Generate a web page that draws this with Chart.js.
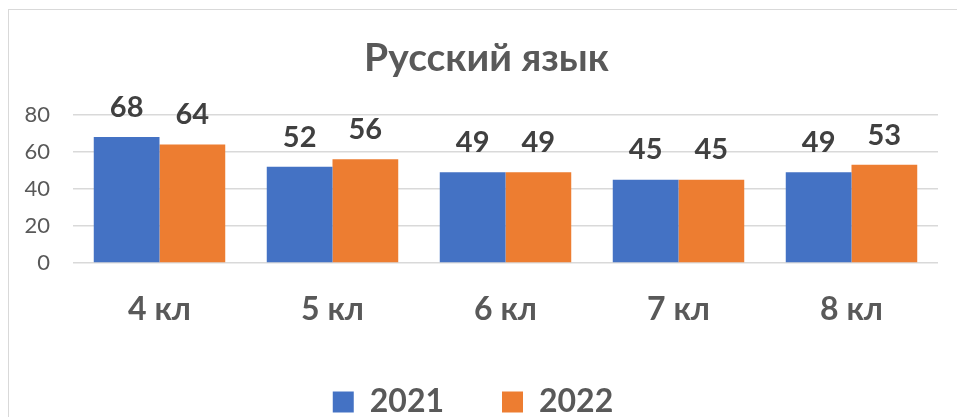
<!DOCTYPE html>
<html><head><meta charset="utf-8">
<script src="https://cdn.jsdelivr.net/npm/chart.js@4"></script>
<style>
html,body{margin:0;padding:0;background:#fff;}
#wrap{position:relative;width:957px;height:417px;}
#frame{position:absolute;left:8px;top:9px;width:960px;height:420px;border:1.5px solid #d9d9d9;box-sizing:border-box;pointer-events:none;}
canvas{position:absolute;left:0;top:0;}
</style></head>
<body><div id="wrap"><canvas id="c" width="957" height="417"></canvas><div id="frame"></div></div>
<script>
const categories = ["4 кл","5 кл","6 кл","7 кл","8 кл"];
const seriesNames = ["2021","2022"];
const values2021 = [68,52,49,45,49];
const values2022 = [64,56,49,45,53];
const yTicks = [0,20,40,60,80];

const FONT = "Lato, 'Open Sans', sans-serif";

const labelPlugin = {
  id:'barLabels',
  afterLayout(chart){
    if (chart.titleBlock) chart.titleBlock.left = 35;
    if (chart.legend) chart.legend.left = 8;
  },
  afterDatasetsDraw(chart){
    const ctx = chart.ctx;
    ctx.save();
    ctx.font = "bold 29px " + FONT;
    ctx.fillStyle = "#404040";
    ctx.textAlign = "center";
    ctx.textBaseline = "bottom";
    chart.data.datasets.forEach((ds,i)=>{
      chart.getDatasetMeta(i).data.forEach((bar,j)=>{
        ctx.fillText(String(ds.data[j]), bar.x, bar.y - 15);
      });
    });
    ctx.restore();
  }
};

new Chart(document.getElementById('c'),{
  type:'bar',
  data:{
    labels:categories,
    datasets:[
      {label:seriesNames[0],data:values2021,backgroundColor:'#4472C4',categoryPercentage:0.76,barPercentage:1},
      {label:seriesNames[1],data:values2022,backgroundColor:'#ED7D31',categoryPercentage:0.76,barPercentage:1}
    ]
  },
  options:{
    responsive:false,
    animation:false,
    layout:{padding:{left:0,right:19,top:0,bottom:-11}},
    plugins:{
      title:{display:true,text:'Русский язык',color:'#595959',font:{family:FONT,size:39,weight:'bold'},padding:{top:35,bottom:33}},
      legend:{position:'bottom',labels:{color:'#595959',font:{family:FONT,size:32,weight:'bold'},boxWidth:21,boxHeight:21,padding:58}},
      tooltip:{enabled:false}
    },
    scales:{
      x:{
        grid:{display:false},border:{display:false},
        ticks:{color:'#595959',font:{family:FONT,size:32,weight:'bold'},padding:19},
        afterFit(s){ s.height = 65; }
      },
      y:{
        min:0,max:80,
        afterBuildTicks(s){ s.ticks = yTicks.map(v=>({value:v})); },
        grid:{color:'#d9d9d9',lineWidth:1.5,drawTicks:false},
        border:{display:false},
        ticks:{color:'#595959',font:{family:FONT,size:22},padding:23},
        afterFit(s){ s.width = 73; }
      }
    }
  },
  plugins:[labelPlugin]
});
</script></body></html>
